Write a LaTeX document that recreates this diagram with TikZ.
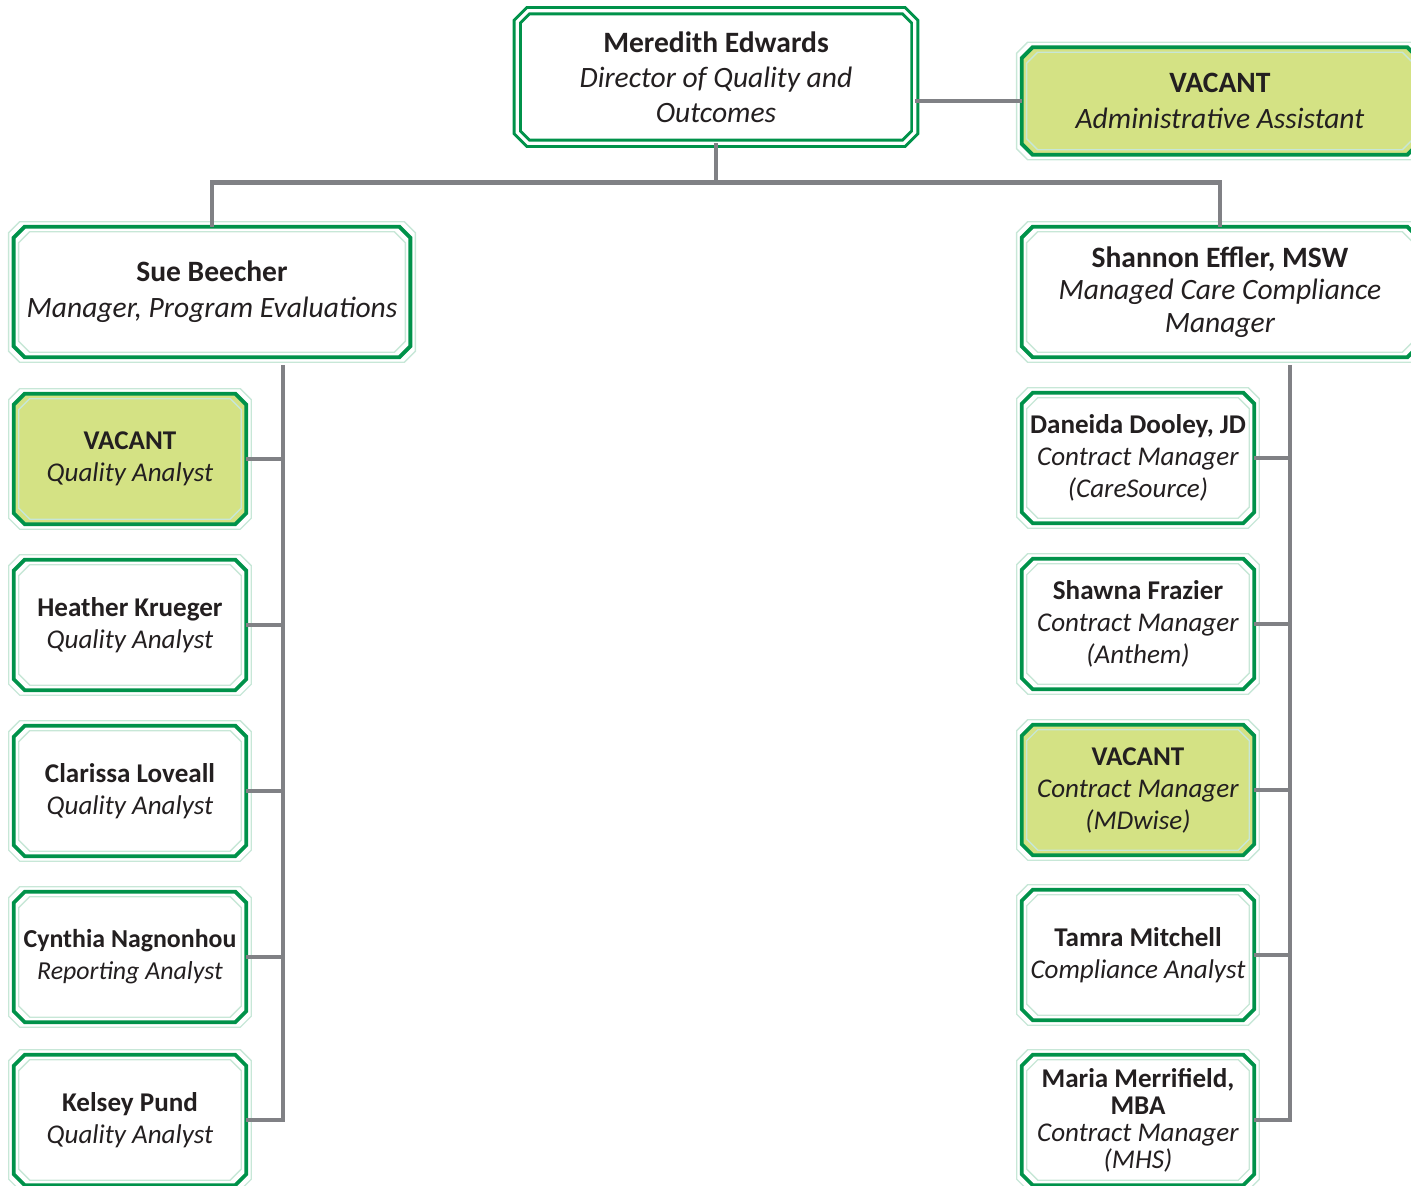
\documentclass[tikz,border=0pt]{standalone}
\usepackage{fontspec}
\setmainfont{Carlito}
\usetikzlibrary{calc,backgrounds}

\definecolor{qgreen}{RGB}{0,146,74}
\definecolor{qvacant}{RGB}{212,226,132}
\definecolor{qgray}{RGB}{128,129,133}
\definecolor{qtext}{RGB}{35,31,32}

% chamfered outline round a node, #2 = inset
\newcommand{\chpath}[2]{($(#1.north west)+(0.11cm+#2,-#2)$) -- ($(#1.north east)+(-0.11cm-#2,-#2)$)
  -- ($(#1.north east)+(-#2,-0.11cm-#2)$) -- ($(#1.south east)+(-#2,0.11cm+#2)$)
  -- ($(#1.south east)+(-0.11cm-#2,#2)$) -- ($(#1.south west)+(0.11cm+#2,#2)$)
  -- ($(#1.south west)+(#2,0.11cm+#2)$) -- ($(#1.north west)+(#2,-0.11cm-#2)$) -- cycle}
\newcommand{\orgframe}[2][white]{%
  \begin{pgfonlayer}{background}
  \draw[inner frame] \chpath{#2}{-0.05cm};
  \filldraw[frame,fill=#1] \chpath{#2}{0cm};
  \draw[inner frame] \chpath{#2}{0.05cm};
  \end{pgfonlayer}}

\begin{document}
\begin{tikzpicture}[x=0.01cm,y=-0.01cm]
\tikzset{
  unit/.style={rectangle, align=center, inner sep=1pt, text=qtext, font=\fontsize{7.7}{9.1}\selectfont},
  small/.style={unit, minimum width=2.31cm, minimum height=1.29cm},
  wide/.style={unit, minimum width=3.95cm, minimum height=1.29cm, font=\fontsize{8.4}{9.2}\selectfont},
  frame/.style={draw=qgreen, line width=1.1pt},
  inner frame/.style={draw=qgreen!22, line width=0.4pt},
  link/.style={draw=qgray, line width=1.4pt}
}
\useasboundingbox (0,0) rectangle (1411,1186);

%%%%%% Director
\node[unit, minimum width=3.96cm, minimum height=1.31cm, font=\fontsize{8.4}{10}\selectfont] (dir) at (716,77)
  {\textbf{Meredith Edwards}\\\textit{Director of Quality and}\\\textit{Outcomes}};
\begin{pgfonlayer}{background}
\filldraw[frame, fill=white, double=white, double distance=0.9pt, line width=0.85pt] \chpath{dir}{0cm};
\end{pgfonlayer}
\node[wide, minimum height=1.06cm, font=\fontsize{8.4}{10.2}\selectfont] (admin) at (1220,101) {\textbf{VACANT}\\\textit{Administrative Assistant}};
\orgframe[qvacant]{admin}

%%%%%% Managers
\node[wide, font=\fontsize{8.4}{10.2}\selectfont] (sue) at (212,292) {\textbf{Sue Beecher}\\\textit{Manager, Program Evaluations}};
\orgframe{sue}
\node[wide] (shannon) at (1220,292) {\textbf{Shannon Effler, MSW}\\\textit{Managed Care Compliance}\\\textit{Manager}};
\orgframe{shannon}

%%%%%% Program Evaluations
\node[small] (qa1) at (130,459) {\textbf{VACANT}\\\textit{Quality Analyst}};
\orgframe[qvacant]{qa1}
\node[small] (qa2) at (130,625) {\textbf{Heather Krueger}\\\textit{Quality Analyst}};
\orgframe{qa2}
\node[small] (qa3) at (130,791) {\textbf{Clarissa Loveall}\\\textit{Quality Analyst}};
\orgframe{qa3}
\node[small, font=\fontsize{7.35}{9.1}\selectfont] (qa4) at (130,957) {\textbf{Cynthia Nagnonhou}\\\textit{Reporting Analyst}};
\orgframe{qa4}
\node[small] (qa5) at (130,1120) {\textbf{Kelsey Pund}\\\textit{Quality Analyst}};
\orgframe{qa5}

%%%%%% Managed Care Compliance
\node[small] (cm1) at (1138,458) {\textbf{Daneida Dooley, JD}\\\textit{Contract Manager}\\\textit{(CareSource)}};
\orgframe{cm1}
\node[small] (cm2) at (1138,624) {\textbf{Shawna Frazier}\\\textit{Contract Manager}\\\textit{(Anthem)}};
\orgframe{cm2}
\node[small] (cm3) at (1138,790) {\textbf{VACANT}\\\textit{Contract Manager}\\\textit{(MDwise)}};
\orgframe[qvacant]{cm3}
\node[small] (cm4) at (1138,955) {\textbf{Tamra Mitchell}\\\textit{Compliance Analyst}};
\orgframe{cm4}
\node[small, font=\fontsize{7.7}{7.7}\selectfont] (cm5) at (1138,1120) {\textbf{Maria Merrifield,}\\\textbf{MBA}\\\textit{Contract Manager}\\\textit{(MHS)}};
\orgframe{cm5}

%%%%%% Links
\draw[link] (admin.west) -- (admin.west -| dir.east);
\draw[link] (dir.south) -- ++(0,39) -| (sue.north);
\draw[link] (dir.south) -- ++(0,39) -| (shannon.north);

% left spine
\coordinate (ltop) at (283,365);
\draw[link] (ltop) |- (qa5.east);
\draw[link] (qa1.east) -- (qa1.east -| ltop);
\draw[link] (qa2.east) -- (qa2.east -| ltop);
\draw[link] (qa3.east) -- (qa3.east -| ltop);
\draw[link] (qa4.east) -- (qa4.east -| ltop);

% right spine
\coordinate (rtop) at (1290,365);
\draw[link] (rtop) |- (cm5.east);
\draw[link] (cm1.east) -- (cm1.east -| rtop);
\draw[link] (cm2.east) -- (cm2.east -| rtop);
\draw[link] (cm3.east) -- (cm3.east -| rtop);
\draw[link] (cm4.east) -- (cm4.east -| rtop);
\end{tikzpicture}
\end{document}
